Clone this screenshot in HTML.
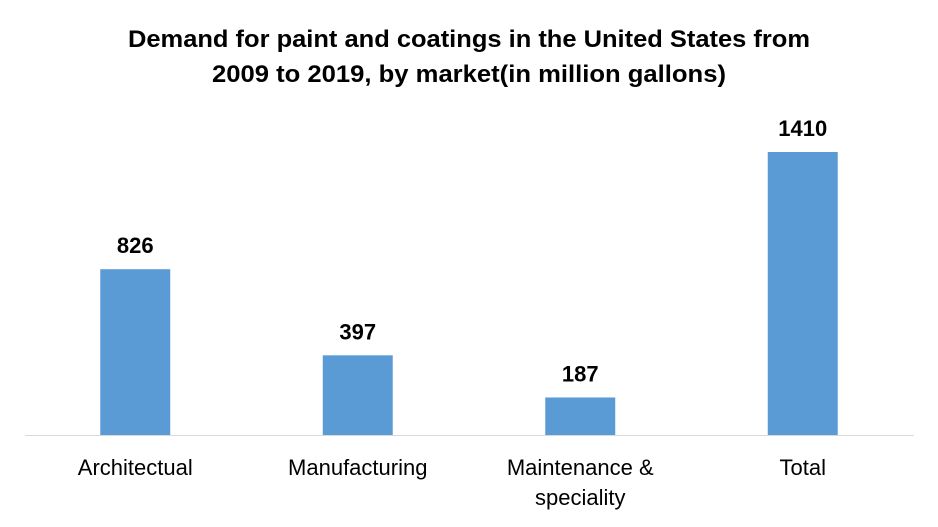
<!DOCTYPE html>
<html><head><meta charset="utf-8"><style>
html,body{margin:0;padding:0;background:#fff;}
svg{display:block;font-family:"Liberation Sans",Arial,sans-serif;}
</style></head><body>
<svg id="chart" width="938" height="527">
<text x="469" y="47" text-anchor="middle" font-size="24" font-weight="bold" fill="#000" textLength="682" lengthAdjust="spacingAndGlyphs">Demand for paint and coatings in the United States from</text>
<text x="469" y="82" text-anchor="middle" font-size="24" font-weight="bold" fill="#000" textLength="514" lengthAdjust="spacingAndGlyphs">2009 to 2019, by market(in million gallons)</text>
<line x1="25" y1="435.5" x2="914" y2="435.5" stroke="#d9d9d9" stroke-width="1"/>
<g id="bars"></g>
</svg>
<script>
const categories = [["Architectual"],["Manufacturing"],["Maintenance &","speciality"],["Total"]];
const values = [826, 397, 187, 1410];
const labels = ["826","397","187","1410"];
const svg = document.getElementById('bars');
const ns = "http://www.w3.org/2000/svg";
const x0 = 24, plotW = 890, baseY = 435, scale = 283/1410, barW = 70;
const band = plotW / categories.length;
function xCenter(i){ return x0 + band*(i+0.5); }
function yVal(v){ return baseY - v*scale; }
values.forEach((v,i)=>{
  const cx = xCenter(i);
  const r = document.createElementNS(ns,'rect');
  
  
  r.setAttribute('x', cx-barW/2); r.setAttribute('y', yVal(v));
  r.setAttribute('width', barW); r.setAttribute('height', baseY - yVal(v));
  r.setAttribute('fill','#5b9bd5');
  svg.appendChild(r);
  const t = document.createElementNS(ns,'text');
  
  
  t.setAttribute('x', cx); t.setAttribute('y', yVal(v)-16);
  t.setAttribute('text-anchor','middle'); t.setAttribute('font-size','22'); t.setAttribute('font-weight','bold');
  t.textContent = labels[i];
  svg.appendChild(t);
  categories[i].forEach((line,j)=>{
    const c = document.createElementNS(ns,'text');
    
    
    c.setAttribute('x', cx); c.setAttribute('y', 475 + j*30);
    c.setAttribute('text-anchor','middle'); c.setAttribute('font-size','22');
    c.textContent = line;
    svg.appendChild(c);
  });
});
</script>
</body></html>
